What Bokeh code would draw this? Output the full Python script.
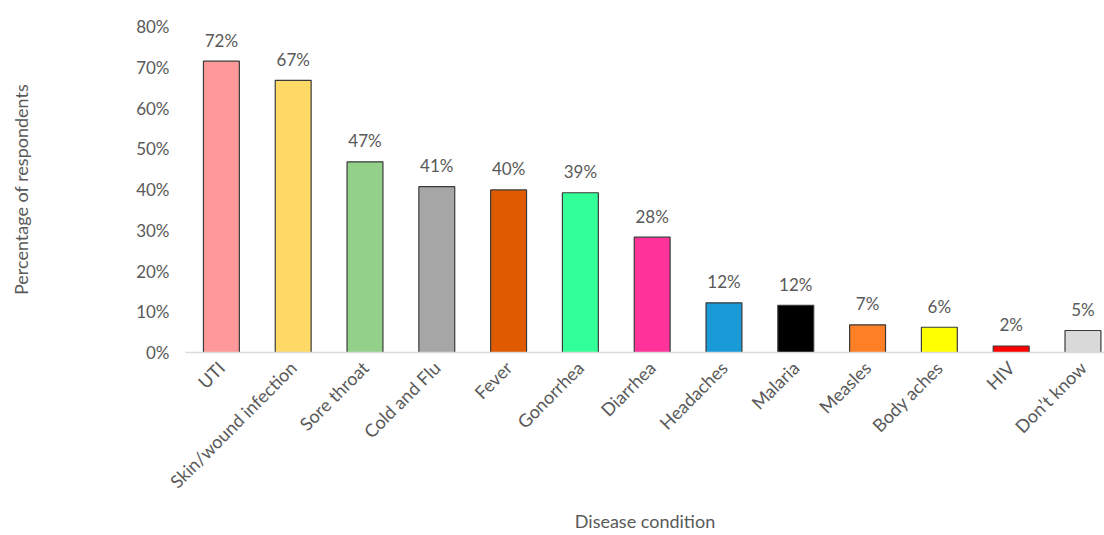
import math
from bokeh.plotting import figure
from bokeh.models import ColumnDataSource, FixedTicker, CustomJSTickFormatter, Range1d
from bokeh.core.properties import value
from bokeh.embed import file_html
from bokeh.resources import INLINE

categories = ["UTI", "Skin/wound infection", "Sore throat", "Cold and Flu", "Fever",
              "Gonorrhea", "Diarrhea", "Headaches", "Malaria", "Measles",
              "Body aches", "HIV", "Don\u2019t know"]
values = [71.5, 66.8, 46.8, 40.7, 39.9, 39.2, 28.3, 12.2, 11.6, 6.8, 6.2, 1.6, 5.4]
labels = ["72%", "67%", "47%", "41%", "40%", "39%", "28%", "12%", "12%", "7%", "6%", "2%", "5%"]
colors = ["#FF9999", "#FFD966", "#93D18B", "#A6A6A6", "#E05A00", "#33FF99", "#FF3399",
          "#1A9AD6", "#000000", "#FF7F27", "#FFFF00", "#FF0000", "#D9D9D9"]
y_ticks = [0, 10, 20, 30, 40, 50, 60, 70, 80]
x_title = "Disease condition"
y_title = "Percentage of respondents"

FONT = "Lato"
GRAY = "#595959"

xpos = list(range(len(categories)))
src = ColumnDataSource(dict(x=xpos, cat=categories, val=values, lab=labels, col=colors))

p = figure(x_range=Range1d(-0.5, 12.3), y_range=Range1d(0, 80), width=1104, height=535,
           output_backend="svg", toolbar_location=None,
           min_border_left=185, min_border_right=0, min_border_top=26,
           min_border_bottom=182)
p.outline_line_color = None
p.xgrid.grid_line_color = None
p.ygrid.grid_line_color = None

p.vbar(x="x", top="val", width=0.5, source=src, fill_color="col",
       line_color="#3A3A3A", line_width=1.2)

p.text(x="x", y="val", text="lab", source=src, text_align="center",
       text_baseline="middle", y_offset=-21, text_font=value(FONT),
       text_font_size="17px", text_color=GRAY)

p.yaxis.ticker = FixedTicker(ticks=y_ticks)
p.yaxis.formatter = CustomJSTickFormatter(code="return tick + '%';")
p.yaxis.axis_line_color = None
p.yaxis.major_tick_line_color = None
p.yaxis.minor_tick_line_color = None
p.yaxis.major_label_text_font = FONT
p.yaxis.major_label_text_font_size = "17px"
p.yaxis.major_label_text_color = GRAY
p.yaxis.major_label_standoff = 10
p.yaxis.axis_label = y_title
p.yaxis.axis_label_text_font = FONT
p.yaxis.axis_label_text_font_style = "normal"
p.yaxis.axis_label_text_font_size = "18px"
p.yaxis.axis_label_text_color = GRAY
p.yaxis.axis_label_standoff = 101

p.xaxis.ticker = FixedTicker(ticks=xpos)
p.xaxis.major_label_overrides = {i: c for i, c in zip(xpos, categories)}
p.xaxis.axis_line_color = "#D9D9D9"
p.xaxis.axis_line_width = 1.5
p.xaxis.major_tick_line_color = None
p.xaxis.minor_tick_line_color = None
p.xaxis.major_label_orientation = math.pi / 4
p.xaxis.major_label_text_font = FONT
p.xaxis.major_label_text_font_size = "18px"
p.xaxis.major_label_text_color = GRAY
p.xaxis.major_label_standoff = 6
p.xaxis.axis_label = x_title
p.xaxis.axis_label_text_font = FONT
p.xaxis.axis_label_text_font_style = "normal"
p.xaxis.axis_label_text_font_size = "18px"
p.xaxis.axis_label_text_color = GRAY
p.xaxis.axis_label_standoff = 7

open("out.html", "w").write(file_html(p, INLINE))
